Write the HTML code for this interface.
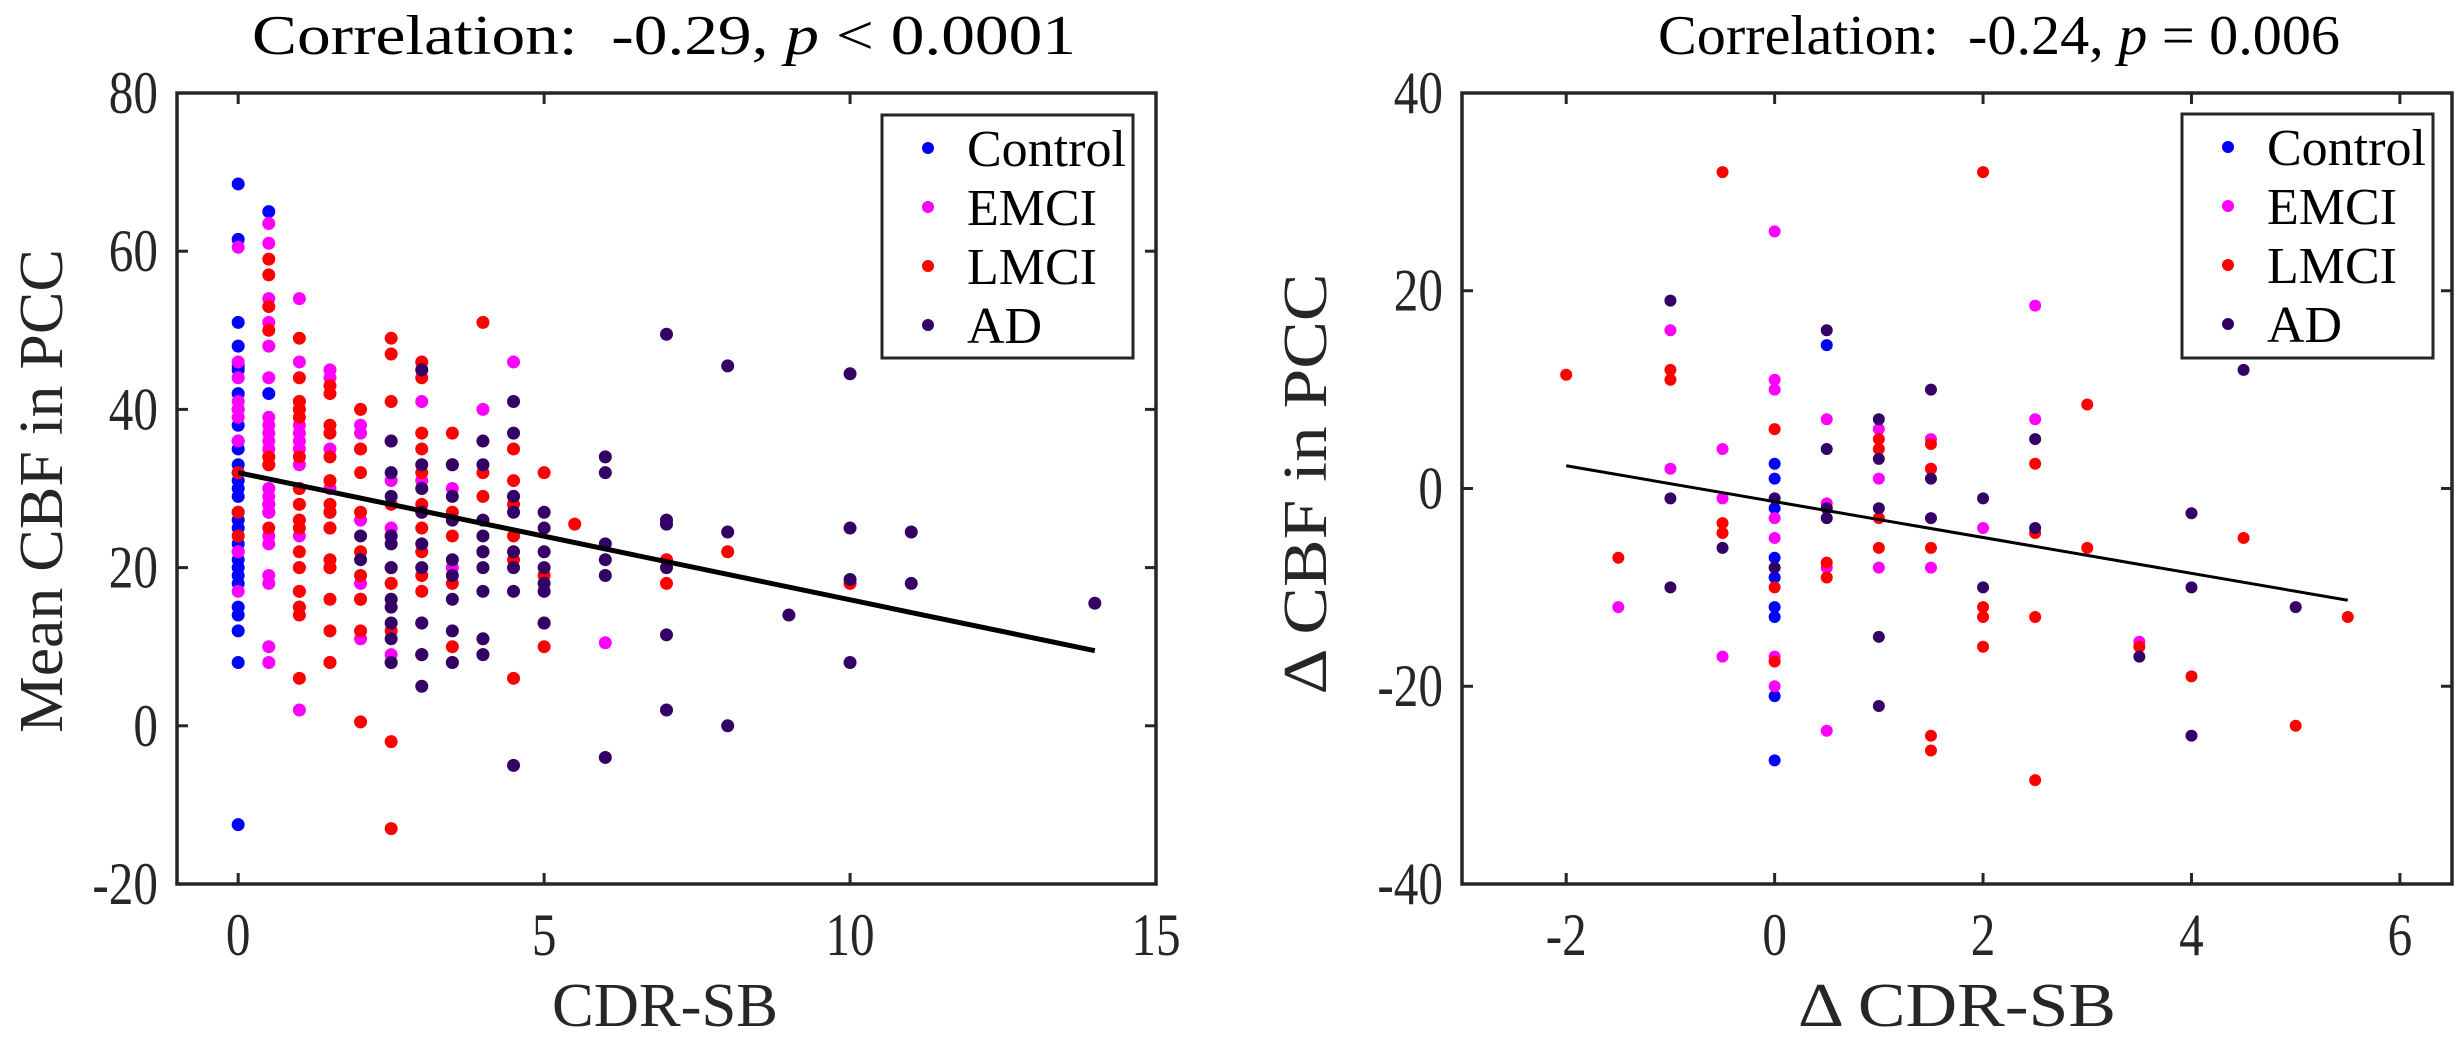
<!DOCTYPE html>
<html><head><meta charset="utf-8"><style>
html,body{margin:0;padding:0;background:#fff;}
svg{display:block;font-family:"Liberation Serif",serif;}
</style></head><body>
<svg id="fig" width="2457" height="1042" viewBox="0 0 2457 1042" xmlns="http://www.w3.org/2000/svg">
<g id="left"></g>
<g id="right"></g>
</svg>
<script>
const colors = {Control:'#0000ff', EMCI:'#ff00ff', LMCI:'#ff0000', AD:'#330066'};
const groups = ['Control','EMCI','LMCI','AD'];

// Left chart data
const leftXTicks = [0,5,10,15];
const leftYTicks = [-20,0,20,40,60,80];
const leftControlX = [0,0,0,0,0,0,0,0,0,0,0,0,0,0,0,0,0,0,0,0,0,0,0,0,0,0,0,0,0,0,0.5,0.5,0.5,0.5];
const leftControlY = [68.5,61.5,51,48,45.5,45,42,40,38,36,35,33,32,31,30,29,27,26,25,23,22,21,20,19,18,15,14,12,8,-12.5,65,42,28,27];
const leftEMCIX = [0,0,0,0,0,0,0,0,0,0.5,0.5,0.5,0.5,0.5,0.5,0.5,0.5,0.5,0.5,0.5,0.5,0.5,0.5,0.5,0.5,0.5,0.5,0.5,0.5,0.5,0.5,0.5,1,1,1,1,1,1,1,1,1,1,1,1,1,1,1,1,1,1.5,1.5,1.5,1.5,1.5,1.5,1.5,1.5,2,2,2,2,2,2,2,2.5,2.5,2.5,2.5,3,3,3,3,3.5,3.5,4,4,4,4.5,4.5,6];
const leftEMCIY = [60.5,46,44,41,40,39,36,22,17,63.5,61,54,51,48,44,39,38,37,36,35,34,33,30,29,28,27,24,23,19,18,10,8,54,46,41,40,38,37,36,35,33,30,28,26,24,20,17,15,2,45,44,35,30,27,25,20,8,38,37,35,26,18,16,11,31,25,18,9,41,31,27,9,30,20,40,22,9,46,29,10.5];
const leftLMCIX = [0,0,0,0.5,0.5,0.5,0.5,0.5,0.5,0.5,1,1,1,1,1,1,1,1,1,1,1,1,1,1,1,1,1.5,1.5,1.5,1.5,1.5,1.5,1.5,1.5,1.5,1.5,1.5,1.5,1.5,1.5,2,2,2,2,2,2,2,2,2,2.5,2.5,2.5,2.5,2.5,2.5,2.5,2.5,2.5,2.5,2.5,2.5,3,3,3,3,3,3,3,3,3,3,3,3,3.5,3.5,3.5,3.5,3.5,3.5,3.5,4,4,4,4,4.5,4.5,4.5,4.5,4.5,4.5,5,5,5,5,5.5,7,7,8,10];
const leftLMCIY = [32,27,24,59,57,53,50,34,33,25,49,44,41,40,39,34,30,28,26,25,22,20,17,15,14,6,43,42,38,37,34,31,28,27,25,21,20,16,12,8,40,35,32,27,22,19,16,12,0.5,49,47,41,36,28,24,20,18,12,8,-2,-13,46,44,37,35,32,28,25,22,19,17,13,9,37,33,27,24,18,10,8,51,32,29,22,35,31,28,24,21,6,32,19,13,10,25.5,21,18,22,18];
const leftADX = [2,2,2.5,2.5,2.5,2.5,2.5,2.5,2.5,2.5,2.5,2.5,2.5,3,3,3,3,3,3,3,3,3,3.5,3.5,3.5,3.5,3.5,3.5,3.5,3.5,4,4,4,4,4,4,4,4,4,4.5,4.5,4.5,4.5,4.5,4.5,4.5,4.5,5,5,5,5,5,5,5,6,6,6,6,6,6,7,7,7,7,7,7,8,8,8,9,10,10,10,10,11,11,14];
const leftADY = [24,21,36,32,29,24,23,20,16,15,13,11,8,45,33,30,27,23,20,13,9,5,33,29,26,21,19,16,12,8,36,33,26,24,22,20,17,11,9,41,37,29,27,22,20,17,-5,27,25,22,20,18,17,13,34,32,23,21,19,-4,49.5,26,25.5,20,11.5,2,45.5,24.5,0,14,44.5,25,18.5,8,24.5,18,15.5];
const leftFitX = [0,14];
const leftFitY = [32,9.5];

// Right chart data
const rightXTicks = [-2,0,2,4,6];
const rightYTicks = [-40,-20,0,20,40];
const rightControlX = [0,0,0,0,0,0,0,0,0.5,0];
const rightControlY = [2.5,1,-7,-9,-12,-13,-21,-27.5,14.5,-2];
const rightEMCIX = [-1.5,-1,-1,-0.5,-0.5,-0.5,0,0,0,0,0,0,0,0.5,0.5,0.5,0.5,1,1,1,1.5,1.5,1.5,2,2.5,2.5,3.5];
const rightEMCIY = [-12,16,2,4,-1,-17,26,11,10,-3,-5,-17,-20,7,-1.5,-8,-24.5,6,1,-8,5,2,-8,-4,18.5,7,-15.5];
const rightLMCIX = [-2,-1.5,-1,-1,-0.5,-0.5,-0.5,0,0,0,0.5,0.5,0.5,1,1,1,1,1.5,1.5,1.5,1.5,1.5,2,2,2,2,2.5,2.5,2.5,2.5,3,3,3.5,4,4.5,5,5.5];
const rightLMCIY = [11.5,-7,12,11,32,-3.5,-4.5,6,-10,-17.5,-2,-7.5,-9,5,4,-3,-6,4.5,2,-6,-25,-26.5,32,-12,-13,-16,2.5,-4.5,-13,-29.5,8.5,-6,-16,-19,-5,-24,-13];
const rightADX = [-1,-1,-1,-0.5,0,0,0.5,0.5,0.5,0.5,1,1,1,1,1,1.5,1.5,1.5,2,2,2.5,2.5,3.5,4,4,4,4.5,5];
const rightADY = [19,-1,-10,-6,-1,-8,16,4,-2,-3,7,3,-2,-15,-22,10,1,-3,-1,-10,5,-4,-17,-2.5,-10,-25,12,-12];
const rightFitX = [-2,5.5];
const rightFitY = [2.3,-11.3];

const NS='http://www.w3.org/2000/svg';
function mk(parent, tag, attrs, text){
  const e=document.createElementNS(NS,tag);
  for(const k in attrs) e.setAttribute(k,attrs[k]);
  if(text!==undefined) e.textContent=text;
  parent.appendChild(e); return e;
}

function drawChart(g, cfg){
  const {x0,x1,y0,y1,xmin,xmax,ymin,ymax} = cfg;
  const sx=v=>x0+(v-xmin)/(xmax-xmin)*(x1-x0);
  const sy=v=>y1-(v-ymin)/(ymax-ymin)*(y1-y0);
  const cx=(x0+x1)/2, cy=(y0+y1)/2;
  cfg.series.forEach(s=>{
    const sg=mk(g,'g',{});
    
    
    for(let i=0;i<s.xs.length;i++){
      const c=mk(sg,'circle',{cx:sx(s.xs[i]),cy:sy(s.ys[i]),r:cfg.r,fill:colors[s.name]});
      
      
    }
  });
  const fl=mk(g,'line',{x1:sx(cfg.fitX[0]),y1:sy(cfg.fitY[0]),x2:sx(cfg.fitX[1]),y2:sy(cfg.fitY[1]),stroke:'#000','stroke-width':cfg.lw});
  
  
  const box=mk(g,'rect',{x:x0,y:y0,width:x1-x0,height:y1-y0,fill:'none',stroke:'#262626','stroke-width':3.5});
  
  
  cfg.xt.forEach(t=>{
    const X=sx(t);
    mk(g,'line',{x1:X,y1:y1,x2:X,y2:y1-11,stroke:'#262626','stroke-width':3});
    mk(g,'line',{x1:X,y1:y0,x2:X,y2:y0+11,stroke:'#262626','stroke-width':3});
    const tl=mk(g,'text',{x:X,y:y1+71,'text-anchor':'middle','font-size':60,fill:'#262626',transform:`translate(${X},0) scale(0.82,1) translate(${-X},0)`},String(t));
    
    
  });
  cfg.yt.forEach(t=>{
    const Y=sy(t);
    mk(g,'line',{x1:x0,y1:Y,x2:x0+11,y2:Y,stroke:'#262626','stroke-width':3});
    mk(g,'line',{x1:x1,y1:Y,x2:x1-11,y2:Y,stroke:'#262626','stroke-width':3});
    const ax=x0-19;
    const tl=mk(g,'text',{x:ax,y:Y+20,'text-anchor':'end','font-size':60,fill:'#262626',transform:`translate(${ax},0) scale(0.82,1) translate(${-ax},0)`},String(t));
    
    
  });
  const ti=mk(g,'text',{x:cfg.tx,y:54,'font-size':56,fill:'#000',textLength:cfg.tw,lengthAdjust:'spacingAndGlyphs'});
  ti.innerHTML=cfg.title;
  
  
  const xl=mk(g,'text',{x:cfg.xlx,y:1026,'font-size':62,fill:'#262626',textLength:cfg.xlw,lengthAdjust:'spacingAndGlyphs'},cfg.xlabel);
  
  
  const yl=mk(g,'text',{x:-cfg.ylw/2,y:0,'font-size':62,fill:'#262626',textLength:cfg.ylw,lengthAdjust:'spacingAndGlyphs',transform:`translate(${cfg.ylx},${cfg.ylc}) rotate(-90)`},cfg.ylabel);
  
  
  const L=cfg.leg;
  const lg=mk(g,'g',{});
  
  
  mk(lg,'rect',{x:L.x,y:L.y,width:L.w,height:L.h,fill:'#fff',stroke:'#262626','stroke-width':3});
  groups.forEach((n,i)=>{
    const Y=L.y+33+i*59;
    const e=mk(lg,'g',{});
    
    
    mk(e,'circle',{cx:L.x+46,cy:Y,r:6,fill:colors[n]});
    mk(e,'text',{x:L.x+85,y:Y+18,'font-size':52,fill:'#000'},n);
  });
}

drawChart(document.getElementById('left'),{
  x0:177,x1:1156,y0:93,y1:884,xmin:-1,xmax:15,ymin:-20,ymax:80,r:6.5,lw:5,
  xt:leftXTicks,yt:leftYTicks,fitX:leftFitX,fitY:leftFitY,
  title:'Correlation:&#160; -0.29, <tspan font-style="italic">p</tspan> &lt; 0.0001',tx:252,tw:824,
  xlabel:'CDR-SB',xlx:552,xlw:226,ylabel:'Mean CBF in PCC',ylx:62,ylw:484,ylc:491,
  leg:{x:882,y:115,w:251,h:243},
  series:[{name:'Control',xs:leftControlX,ys:leftControlY},{name:'EMCI',xs:leftEMCIX,ys:leftEMCIY},{name:'LMCI',xs:leftLMCIX,ys:leftLMCIY},{name:'AD',xs:leftADX,ys:leftADY}]
});
drawChart(document.getElementById('right'),{
  x0:1462,x1:2452,y0:93,y1:884,xmin:-3,xmax:6.5,ymin:-40,ymax:40,r:6,lw:3,
  xt:rightXTicks,yt:rightYTicks,fitX:rightFitX,fitY:rightFitY,
  title:'Correlation:&#160; -0.24, <tspan font-style="italic">p</tspan> = 0.006',tx:1658,tw:682,
  xlabel:'Δ CDR-SB',xlx:1798,xlw:318,ylabel:'Δ CBF in PCC',ylx:1326,ylw:421,ylc:484,
  leg:{x:2182,y:114,w:251,h:244},
  series:[{name:'Control',xs:rightControlX,ys:rightControlY},{name:'EMCI',xs:rightEMCIX,ys:rightEMCIY},{name:'LMCI',xs:rightLMCIX,ys:rightLMCIY},{name:'AD',xs:rightADX,ys:rightADY}]
});
</script>
</body></html>
